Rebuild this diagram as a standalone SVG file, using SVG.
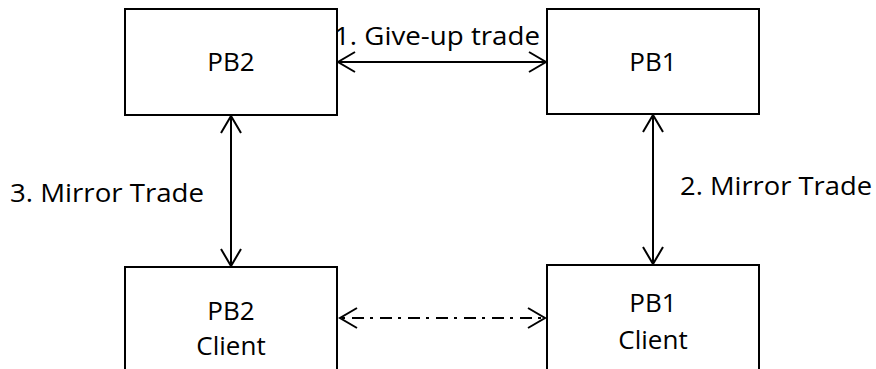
<svg xmlns="http://www.w3.org/2000/svg" width="876" height="369" viewBox="0 0 876 369">
<style>
.box{fill:#fff;stroke:#000;stroke-width:2}
.t{font-family:"Open Sans","Liberation Sans",sans-serif;font-size:26px;fill:#000;text-anchor:middle}
.l{font-family:"Open Sans","Liberation Sans",sans-serif;font-size:26px;fill:#000}
.c{fill:none;stroke:#000;stroke-width:2}
.dd{stroke-dasharray:12 6 3 7;stroke-dashoffset:-12}
</style>
<defs>
<marker id="ah" markerUnits="userSpaceOnUse" markerWidth="24" markerHeight="26" viewBox="-21 -13 24 26" refX="0" refY="0" orient="auto-start-reverse">
<path d="M-17,-10 L0,0 L-17,10" fill="none" stroke="#000" stroke-width="2"/>
</marker>
</defs>
<rect width="876" height="369" fill="#fff"/>
<g id="pb2">
<rect class="box" x="125" y="9" width="212" height="106"/>
<text class="t" x="231" y="71">PB2</text>
</g>
<g id="pb1">
<rect class="box" x="547" y="9" width="212" height="105"/>
<text class="t" x="653" y="71">PB1</text>
</g>
<g id="pb2client">
<rect class="box" x="125" y="267" width="212" height="110"/>
<text class="t" x="231" y="320">PB2</text>
<text class="t" x="231" y="355">Client</text>
</g>
<g id="pb1client">
<rect class="box" x="547" y="265" width="212" height="112"/>
<text class="t" x="653" y="312">PB1</text>
<text class="t" x="653" y="349">Client</text>
</g>
<g id="connectors">
<line class="c" x1="338" y1="62" x2="546" y2="62" marker-start="url(#ah)" marker-end="url(#ah)"/>
<line class="c dd" x1="340" y1="318" x2="545" y2="318" marker-start="url(#ah)" marker-end="url(#ah)"/>
<line class="c" x1="231" y1="116" x2="231" y2="266" marker-start="url(#ah)" marker-end="url(#ah)"/>
<line class="c" x1="653" y1="115" x2="653" y2="264" marker-start="url(#ah)" marker-end="url(#ah)"/>
<text class="l" x="334" y="45" textLength="206" lengthAdjust="spacingAndGlyphs">1. Give-up trade</text>
<text class="l" x="10" y="202" textLength="194" lengthAdjust="spacingAndGlyphs">3. Mirror Trade</text>
<text class="l" x="680" y="195" textLength="192" lengthAdjust="spacingAndGlyphs">2. Mirror Trade</text>
</g>
</svg>
